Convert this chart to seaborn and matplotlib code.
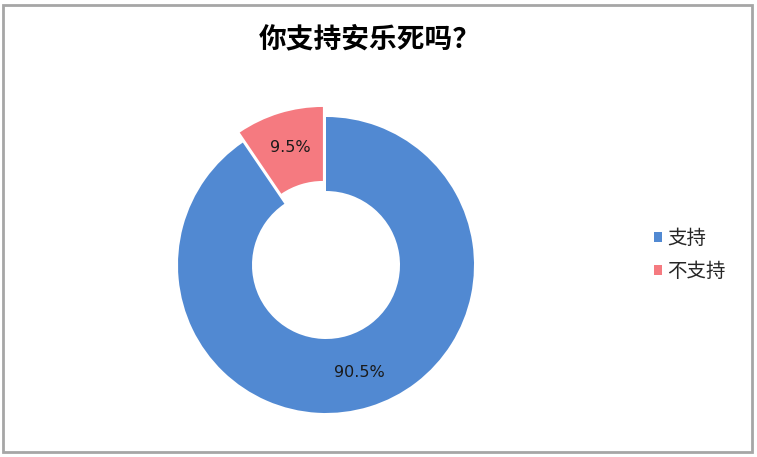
import matplotlib
matplotlib.use("Agg")
import matplotlib.pyplot as plt
from matplotlib.patches import Rectangle
import seaborn as sns

title = "你支持安乐死吗？"
categories = ["支持", "不支持"]
values = [90.5, 9.5]
colors = ["#5189D2", "#F57A80"]

sns.set_theme(style="white")
plt.rcParams['font.family'] = ['Noto Sans CJK SC', 'DejaVu Sans']

W, H = 757, 457
fig = plt.figure(figsize=(W / 100, H / 100), dpi=100)
fig.patch.set_facecolor("white")

# donut axes: centre (326,265) px, radius 148 px
R = 148
cx, cy = 326, 265
half = 1.25 * R
ax = fig.add_axes([(cx - half) / W, (H - cy - half) / H, 2 * half / W, 2 * half / H])

wedges, texts, autotexts = ax.pie(
    values, colors=colors, startangle=90, counterclock=False,
    explode=[0, 0.071], radius=1.0,
    wedgeprops=dict(width=0.5, edgecolor="none"),
    autopct=lambda p: f"{p:.1f}%", pctdistance=0.76,
    textprops=dict(family="DejaVu Sans", fontsize=11.5, color="#1a1a1a"),
)
ax.set_xlim(-1.25, 1.25)
ax.set_ylim(-1.25, 1.25)
ax.set_aspect("equal")
ax.axis("off")

fig.text(370 / W, 1 - 39 / H, title, ha="center", va="center",
         fontsize=20, fontweight="heavy", color="black")

leg = fig.legend(wedges, categories, loc="upper left",
                 bbox_to_anchor=(654 / W, 1 - 228 / H),
                 frameon=False, fontsize=14, handlelength=0.4, handleheight=0.4,
                 handletextpad=0.3, labelspacing=0.6, borderpad=0, borderaxespad=0)

fig.patches.append(Rectangle((3 / W, 5 / H), 749 / W, 447 / H,
                             transform=fig.transFigure, fill=False,
                             edgecolor="#a6a6a6", linewidth=2))

fig.savefig("out.png", dpi=100)
